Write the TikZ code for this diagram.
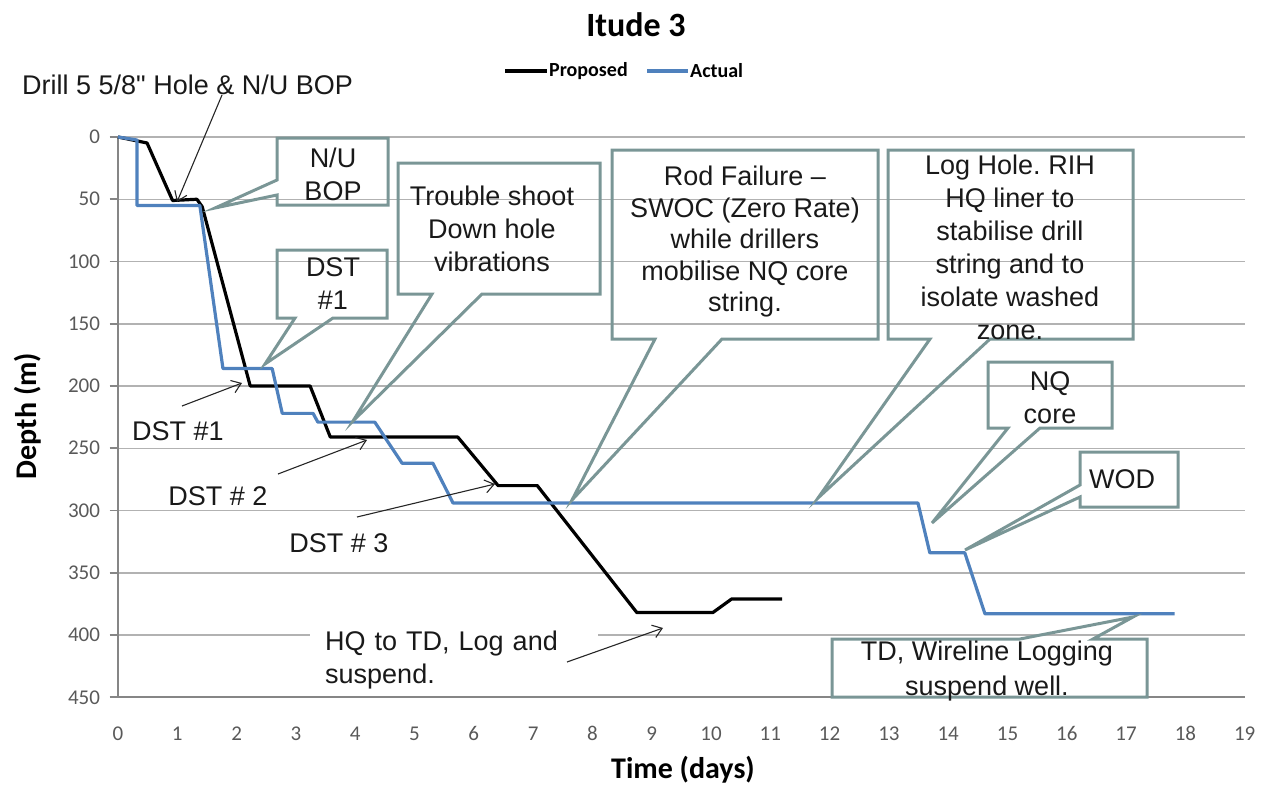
\documentclass[tikz,border=0pt]{standalone}
\usepackage{fontspec}
\setmainfont{Liberation Sans}
\newfontfamily\calfont{Carlito}
\usetikzlibrary{arrows.meta}
\newcommand\straightquote{\XeTeXglyph\XeTeXcharglyph"22\relax}
\definecolor{calloutc}{RGB}{122,150,150}
\definecolor{actualc}{RGB}{79,129,189}
\definecolor{gridc}{RGB}{178,178,178}
\definecolor{axisc}{RGB}{134,134,134}
\definecolor{tickc}{RGB}{89,89,89}
\frenchspacing
\begin{document}
\begin{tikzpicture}[x=1pt,y=-1pt,
  gridline/.style={draw=gridc, line width=1.5pt},
  axisline/.style={draw=axisc, line width=1.8pt},
  ticklab/.style={font=\calfont\fontsize{21}{21}\selectfont, text=tickc, inner sep=0pt},
  lab/.style={font=\fontsize{27}{33}\selectfont, align=center, inner sep=0pt, text=black!90},
  calloutbox/.style={draw=calloutc, line width=3pt, line join=miter},
  pointer/.style={draw=black!85, line width=1.1pt, -{Straight Barb[length=9pt,width=13pt]}},
  proposed/.style={draw=black, line width=3.2pt, line join=round},
  actualline/.style={draw=actualc, line width=3.2pt, line join=round},
  axtitle/.style={font=\calfont\bfseries\fontsize{30}{30}\selectfont, inner sep=0pt},
]
\useasboundingbox (0,0) rectangle (1267,785);

% ---------- axes and grid (data coordinates) ----------
\begin{scope}[shift={(118,137)}, x=59.3pt, y=-1.245pt]
  \foreach \m in {0,50,...,400} \draw[gridline] (0,\m) -- (19,\m);
  \foreach \m in {0,50,...,450} {
    \draw[axisline] (-0.14,\m) -- (0,\m);
    \node[ticklab, anchor=east] (yl\m) at (-0.3,\m) {\m};
  }
  \draw[axisline] (0,450) -- (19,450);
  \draw[axisline] (0,0) -- (0,450);
  \foreach \d in {0,...,19} \node[ticklab] (xl\d) at (\d,479) {\d};

  % Proposed
  \draw[proposed] (0,0) -- (0.49,4.8) -- (0.92,51) -- (1.33,50) -- (1.42,56)
    -- (2.23,200) -- (3.24,200) -- (3.58,241) -- (5.73,241) -- (6.41,280)
    -- (7.07,280) -- (8.75,382) -- (10.03,382) -- (10.35,371) -- (11.2,371);
  % Actual
  \draw[actualline] (0,0) -- (0.32,2.4) -- (0.32,55) -- (1.38,55) -- (1.77,186)
    -- (2.6,186) -- (2.77,222) -- (3.29,222) -- (3.37,229) -- (4.33,229)
    -- (4.79,262) -- (5.31,262) -- (5.65,294) -- (13.49,294) -- (13.69,334)
    -- (14.28,334) -- (14.62,383) -- (17.82,383);
\end{scope}

% ---------- title, legend, axis titles ----------
\node[font=\calfont\bfseries\fontsize{34}{34}\selectfont, inner sep=0pt] (title) at (636,25) {Itude 3};
\coordinate (lp1) at (505,71); \coordinate (lp2) at (547,71);
\draw[proposed] (lp1) -- (lp2);
\node[font=\calfont\bfseries\fontsize{20}{20}\selectfont, anchor=west, inner sep=0pt] (legp) at (549,71) {Proposed};
\coordinate (la1) at (647,71); \coordinate (la2) at (688,71);
\draw[actualline] (la1) -- (la2);
\node[font=\calfont\bfseries\fontsize{20}{20}\selectfont, anchor=west, inner sep=0pt] (lega) at (690,71) {Actual};
\node[axtitle] (xtitle) at (683,770) {Time (days)};
\node[axtitle, rotate=90] (ytitle) at (28,416) {Depth (m)};

% ---------- callouts ----------
\coordinate (tipNU) at (215,208);
\draw[calloutbox] (277,138) -- (388,138) -- (388,205) -- (277,205) -- (277,195) -- (tipNU) -- (277,180) -- cycle;
\node[lab] (nubop) at (333,174) {N/U\\BOP};

\coordinate (tipD1) at (265,364);
\draw[calloutbox] (277,250) -- (387,250) -- (387,318) -- (333,318) -- (tipD1) -- (295,318) -- (277,318) -- cycle;
\node[lab] (dstbox) at (333,284) {DST\\\#1};

\coordinate (tipT) at (353,421);
\draw[calloutbox] (398,163) -- (600,163) -- (600,294) -- (482,294) -- (tipT) -- (432,294) -- (398,294) -- cycle;
\node[lab] (trouble) at (492,229) {Trouble shoot\\Down hole\\vibrations};

\coordinate (tipR) at (572,500);
\draw[calloutbox] (612,150) -- (878,150) -- (878,339) -- (722,339) -- (tipR) -- (655,339) -- (612,339) -- cycle;
\node[lab, font=\fontsize{27}{31.5}\selectfont] (rod) at (745,242) {Rod Failure --\\SWOC (Zero Rate)\\while drillers\\mobilise NQ core\\string.};

\coordinate (tipL) at (818,498);
\draw[calloutbox] (888,150) -- (1133,150) -- (1133,339) -- (990,339) -- (tipL) -- (930,339) -- (888,339) -- cycle;
\node[lab] (loghole) at (1010,247) {Log Hole. RIH\\HQ liner to\\stabilise drill\\string and to\\isolate washed\\zone.};

\coordinate (tipN) at (932,523);
\draw[calloutbox] (988,362) -- (1112,362) -- (1112,428) -- (1040,428) -- (tipN) -- (1008,428) -- (988,428) -- cycle;
\node[lab] (nqcore) at (1050,398) {NQ\\core};

\coordinate (tipW) at (965,550);
\draw[calloutbox] (1080,452) -- (1178,452) -- (1178,507) -- (1080,507) -- (1080,497) -- (tipW) -- (1080,485) -- cycle;
\node[lab] (wod) at (1122,479) {WOD};

\coordinate (tipTD) at (1133,617);
\draw[calloutbox] (832,639) -- (1020,639) -- (tipTD) -- (1093,639) -- (1147,639) -- (1147,697) -- (832,697) -- cycle;
\node[lab, font=\fontsize{27}{35}\selectfont] (tdbox) at (987,671) {TD, Wireline Logging\\suspend well.};

% ---------- plain labels with arrows ----------
\node[lab, anchor=west] (drill) at (22,85) {Drill 5 5/8\straightquote{} Hole \& N/U BOP};
\coordinate (drA) at (222,95); \coordinate (drB) at (177,202);
\draw[pointer] (drA) -- (drB);

\node[lab] (dst1) at (178,431) {DST \#1};
\coordinate (d1A) at (182,406); \coordinate (d1B) at (242,383);
\draw[pointer] (d1A) -- (d1B);

\node[lab] (dst2) at (218,496) {DST \# 2};
\coordinate (d2A) at (278,474); \coordinate (d2B) at (367,440);
\draw[pointer] (d2A) -- (d2B);

\node[lab] (dst3) at (339,543) {DST \# 3};
\coordinate (d3A) at (357,517); \coordinate (d3B) at (495,484);
\draw[pointer] (d3A) -- (d3B);

\node[lab, fill=white, align=left, text width=258pt, inner xsep=15pt, inner ysep=3pt, anchor=west] (hq) at (310,660) {HQ to TD, Log and\\suspend.};
\coordinate (hqA) at (567,662); \coordinate (hqB) at (663,628);
\draw[pointer] (hqA) -- (hqB);
\end{tikzpicture}
\end{document}
